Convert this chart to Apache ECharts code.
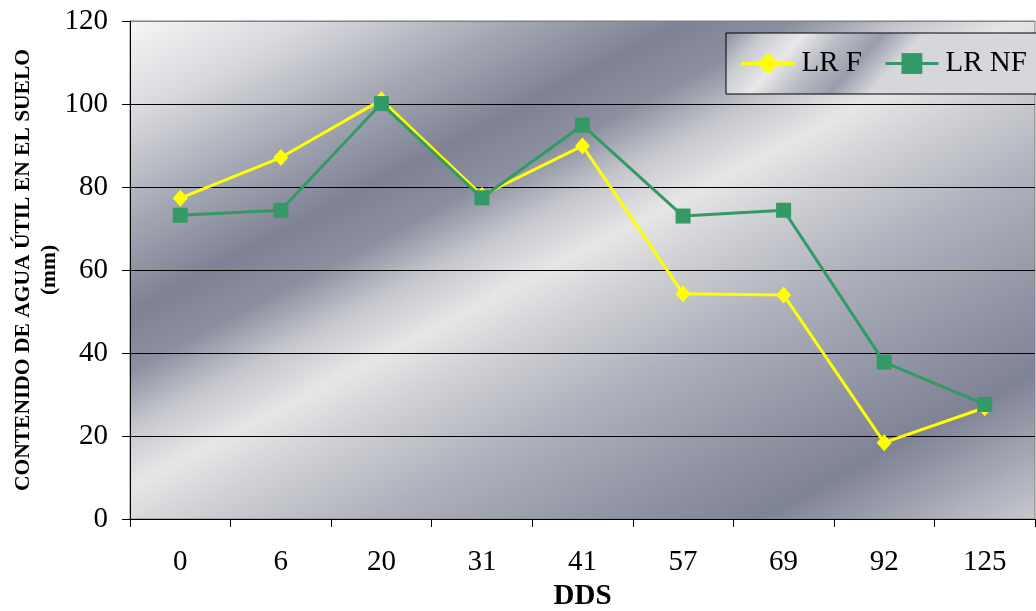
<!DOCTYPE html>
<html>
<head>
<meta charset="utf-8">
<script src="https://cdn.jsdelivr.net/npm/echarts@6/dist/echarts.min.js"></script>
<style>
html,body{margin:0;padding:0;background:#fff;}
#chart{width:1036px;height:611px;}
</style>
</head>
<body>
<div id="chart"></div>
<script>
const categories = ['0', '6', '20', '31', '41', '57', '69', '92', '125'];
const lrF = [77.3, 87.1, 101.0, 78.0, 89.9, 54.3, 54.0, 18.4, 26.8];
const lrNF = [73.2, 74.4, 100.1, 77.4, 94.9, 73.0, 74.4, 37.8, 27.6];
const yTicks = [0, 20, 40, 60, 80, 100, 120];

const serif = '"Liberation Serif", "Times New Roman", serif';

const metal = {
  type: 'linear', x: 0, y: 0, x2: 0.441, y2: 1.53,
  colorStops: [
    {offset: 0, color: '#f6f6f7'},
    {offset: 0.1, color: '#d8d9dd'},
    {offset: 0.2, color: '#a8abb6'},
    {offset: 0.3, color: '#7e8294'},
    {offset: 0.36, color: '#8b8f9f'},
    {offset: 0.42, color: '#c6c7cd'},
    {offset: 0.48, color: '#e6e6e7'},
    {offset: 0.54, color: '#d0d1d5'},
    {offset: 0.64, color: '#afb2bc'},
    {offset: 0.78, color: '#8d91a1'},
    {offset: 0.85, color: '#7f8396'},
    {offset: 0.93, color: '#a5a8b4'},
    {offset: 1, color: '#c8c9cf'}
  ]
};
const legendMetal = {
  type: 'linear', x: 0, y: 0, x2: 0.35, y2: 1.6,
  colorStops: [
    {offset: 0, color: '#8a8e9e'},
    {offset: 0.2, color: '#c9cad0'},
    {offset: 0.4, color: '#e8e8e9'},
    {offset: 0.6, color: '#b9bbc4'},
    {offset: 0.8, color: '#9a9eac'},
    {offset: 1, color: '#d6d7db'}
  ]
};

const chart = echarts.init(document.getElementById('chart'), null, {renderer: 'canvas'});
chart.setOption({
  backgroundColor: '#ffffff',
  animation: false,
  grid: {
    left: 130, right: 1, top: 21, bottom: 92,
    outerBoundsMode: 'none',
    containLabel: false,
    show: true,
    backgroundColor: metal,
    borderColor: '#808080',
    borderWidth: 1
  },
  legend: {
    orient: 'horizontal',
    left: 726, top: 33,
    width: 300,
    padding: [16, 10, 16, 14],
    backgroundColor: legendMetal,
    borderColor: '#000000',
    borderWidth: 1,
    itemWidth: 53,
    itemHeight: 26,
    itemGap: 22,
    lineStyle: {width: 3},
    textStyle: {fontFamily: serif, fontSize: 29, color: '#000', padding: [0, 0, 0, 2]},
    data: ['LR F', 'LR NF']
  },
  xAxis: {
    type: 'category',
    data: categories,
    boundaryGap: true,
    name: 'DDS',
    nameLocation: 'middle',
    nameGap: 61,
    nameTextStyle: {fontFamily: serif, fontSize: 29, fontWeight: 'bold', color: '#000'},
    axisLine: {lineStyle: {color: '#000', width: 1}},
    axisTick: {show: true, length: 8, lineStyle: {color: '#000'}},
    axisLabel: {fontFamily: serif, fontSize: 29, color: '#000', margin: 29},
    splitLine: {show: false}
  },
  yAxis: {
    type: 'value',
    min: 0, max: 120, interval: 20,
    name: 'CONTENIDO DE AGUA ÚTIL EN EL SUELO\n(mm)',
    nameLocation: 'middle',
    nameGap: 68,
    nameMoveOverlap: false,
    nameRotate: 90,
    nameTextStyle: {fontFamily: serif, fontSize: 21.5, fontWeight: 'bold', color: '#000', lineHeight: 26, align: 'center'},
    axisLine: {show: true, lineStyle: {color: '#000', width: 1}},
    axisTick: {show: true, length: 8, lineStyle: {color: '#000'}},
    axisLabel: {
      fontFamily: serif, fontSize: 29, color: '#000', margin: 22,
      formatter: function (v) { return yTicks.indexOf(v) >= 0 ? String(v) : ''; }
    },
    splitLine: {show: true, lineStyle: {color: ['#000', '#000', '#000', '#000', '#000', '#000', '#808080'], width: 1}}
  },
  series: [
    {
      name: 'LR F',
      type: 'line',
      data: lrF,
      symbol: 'diamond',
      symbolSize: [15, 17],
      lineStyle: {color: '#ffff00', width: 3},
      itemStyle: {color: '#ffff00'},
      z: 2
    },
    {
      name: 'LR NF',
      type: 'line',
      data: lrNF,
      symbol: 'rect',
      symbolSize: 15,
      lineStyle: {color: '#339966', width: 3},
      itemStyle: {color: '#339966'},
      z: 3
    }
  ]
});
</script>
</body>
</html>
